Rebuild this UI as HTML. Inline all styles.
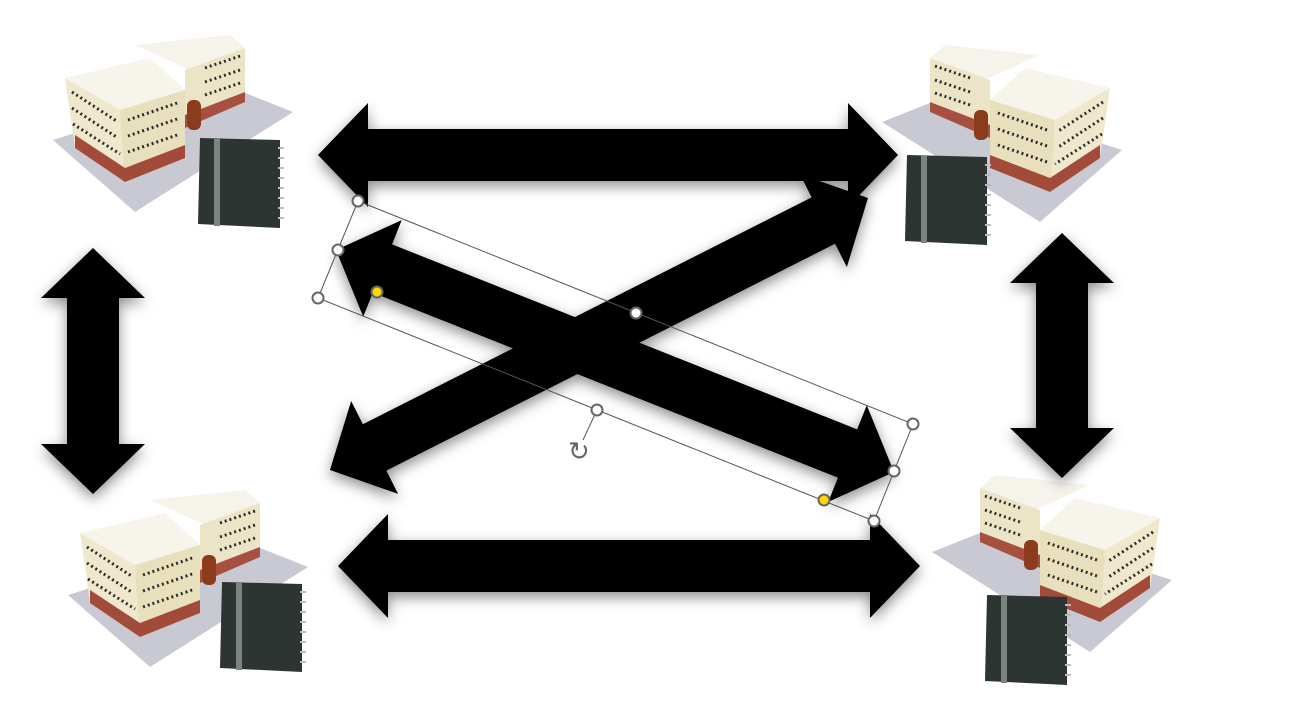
<!DOCTYPE html>
<html><head><meta charset="utf-8"><style>html,body{margin:0;padding:0;background:#fff;width:1307px;height:707px;overflow:hidden}svg{display:block}</style></head>
<body>
<svg width="1307" height="707" viewBox="0 0 1307 707" xmlns="http://www.w3.org/2000/svg">
<defs>
<filter id="sh" x="-20%" y="-40%" width="140%" height="180%"><feDropShadow dx="0" dy="5" stdDeviation="7" flood-color="#000" flood-opacity="0.45"/></filter>
<symbol id="bld" overflow="visible">
  <polygon points="3,110 85,182 243,82 175,55" fill="#c9c9d3"/>
  <polygon points="85,15 180,5 195,18 140,40" fill="#f6f3ea"/>
  <polygon points="135,40 195,18 195,70 135,98" fill="#ece4c6"/>
  <polygon points="135,85 195,62 195,72 135,98" fill="#a8503f"/>
  <polygon points="15,48 100,28 135,60 70,80" fill="#f7f4ec"/>
  <polygon points="15,48 70,80 75,152 25,118" fill="#efe8cd"/>
  <polygon points="70,80 135,60 135,128 75,152" fill="#e8dfbd"/>
  <polygon points="25,105 75,138 75,152 25,118" fill="#a34b3a"/>
  <polygon points="75,138 135,115 135,128 75,152" fill="#a34b3a"/>
  <g stroke="#2c2c2c" stroke-width="3" stroke-dasharray="2 3" fill="none">
    <line x1="22" y1="62" x2="68" y2="92"/><line x1="22" y1="78" x2="68" y2="108"/><line x1="23" y1="94" x2="70" y2="124"/>
    <line x1="78" y1="90" x2="130" y2="72"/><line x1="78" y1="106" x2="130" y2="88"/><line x1="78" y1="122" x2="130" y2="104"/>
    <line x1="155" y1="38" x2="190" y2="26"/><line x1="155" y1="52" x2="190" y2="40"/><line x1="155" y1="65" x2="190" y2="53"/>
  </g>
  <rect x="137" y="70" width="14" height="30" rx="6" fill="#8a3c1c"/>
</symbol>
<symbol id="nb" overflow="visible">
  <polygon points="2,0 82,2 82,90 0,86" fill="#2d3532"/>
  <rect x="16" y="1" width="6" height="87" fill="#7b8480"/>
  <g stroke="#bbb" stroke-width="2" fill="none">
    <path d="M80 10h6M80 20h6M80 30h6M80 40h6M80 50h6M80 60h6M80 70h6M80 80h6"/>
  </g>
</symbol>
</defs>
<g><use href="#bld" x="50" y="30"/><use href="#nb" x="198" y="138"/></g>
<g><use href="#bld" transform="translate(1125,40) scale(-1,1)"/><use href="#nb" x="905" y="155"/></g>
<g><use href="#bld" x="65" y="485"/><use href="#nb" x="220" y="582"/></g>
<g><use href="#bld" transform="translate(1175,470) scale(-1,1)"/><use href="#nb" x="985" y="595"/></g>
<g id="arrows" fill="#000" filter="url(#sh)"></g>
<g fill="none" stroke="#555" stroke-width="1">
  <polygon points="358,201 913,424 874,521 318,298"/>
  <line x1="597" y1="410" x2="583" y2="440"/>
</g>
<text x="568" y="460" font-family="DejaVu Sans, sans-serif" font-size="26" fill="#666">↻</text>
<g fill="#fff" stroke="#666" stroke-width="2">
  <circle cx="358" cy="201" r="5.5"/><circle cx="913" cy="424" r="5.5"/><circle cx="874" cy="521" r="5.5"/><circle cx="318" cy="298" r="5.5"/>
  <circle cx="636" cy="313" r="5.5"/><circle cx="597" cy="410" r="5.5"/><circle cx="338" cy="250" r="5.5"/><circle cx="894" cy="471" r="5.5"/>
</g>
<g fill="#ffd700" stroke="#666" stroke-width="2">
  <circle cx="377" cy="292" r="5.5"/><circle cx="824" cy="500" r="5.5"/>
</g>
<script>
const arrowNames = ['arrow-top','arrow-bottom','arrow-left','arrow-right','arrow-diag-up','arrow-diag-down'];
const arrowStart = [[318,155],[338,566],[93,248],[1062,233],[330,470],[336,250]];
const arrowEnd = [[898,155],[920,566],[93,494],[1062,478],[868,198],[894,472]];
const g = document.getElementById('arrows');
for (let i = 0; i < arrowNames.length; i++) {
  const [x1,y1] = arrowStart[i], [x2,y2] = arrowEnd[i];
  const L = Math.hypot(x2-x1,y2-y1), a = Math.atan2(y2-y1,x2-x1)*180/Math.PI;
  const w = 26, h = 52, hl = 50;
  const pts = [[0,0],[hl,-h],[hl,-w],[L-hl,-w],[L-hl,-h],[L,0],[L-hl,h],[L-hl,w],[hl,w],[hl,h]];
  const p = document.createElementNS('http://www.w3.org/2000/svg','polygon');
  p.setAttribute('points', pts.map(q=>q.join(',')).join(' '));
  p.setAttribute('transform', `translate(${x1},${y1}) rotate(${a})`);
  
  
  g.appendChild(p);
}
</script>
</svg>
</body></html>
